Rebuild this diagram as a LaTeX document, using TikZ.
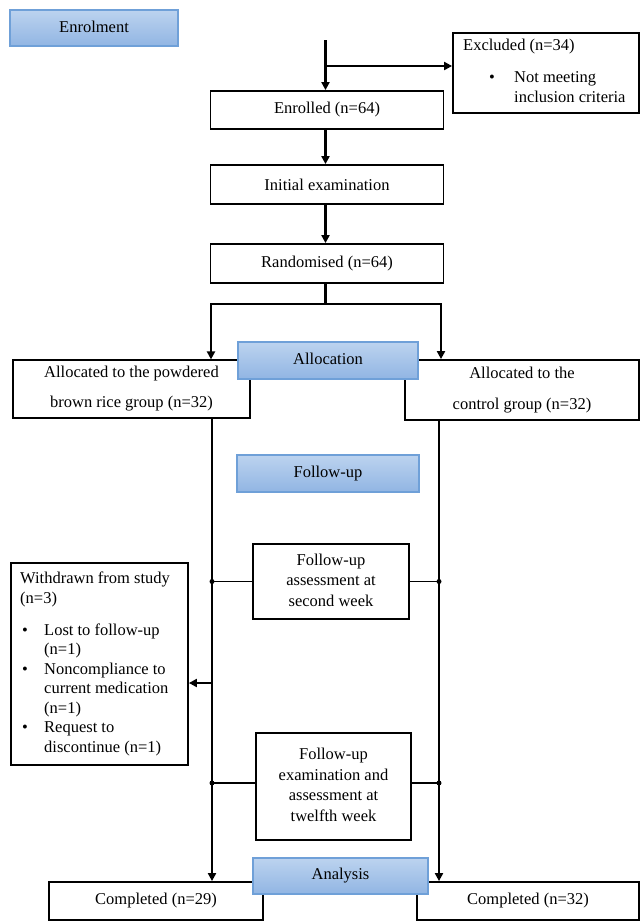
\documentclass[tikz,border=0pt]{standalone}
\usepackage{fontspec}
\setmainfont{Liberation Serif}
\usetikzlibrary{arrows.meta}
\definecolor{hdrtop}{HTML}{BCD3EF}
\definecolor{hdrbot}{HTML}{91B5E3}
\definecolor{hdrline}{HTML}{6FA0D8}
\begin{document}
\begin{tikzpicture}[x=1pt,y=-1pt,
  every node/.style={font=\fontsize{16.5}{20.5}\selectfont, inner sep=0pt},
  box/.style={draw=black, line width=1.8pt, rectangle, align=center},
  hdr/.style={draw=hdrline, line width=1.5pt, top color=hdrtop, bottom color=hdrbot, align=center},
  conn/.style={line width=2.6pt},
  thinconn/.style={line width=1.3pt},
  arr/.style={line width=2.6pt, -{Triangle[length=8pt,width=8pt]}},
  dot/.style={circle, fill=black, minimum size=5pt, inner sep=0pt}]
\useasboundingbox (0,0) rectangle (640,922);
\fill[white] (0,0) rectangle (640,922);

% boxes
\node[box, minimum width=186pt, minimum height=80pt] (excluded) at (546,73) {};
\node[anchor=north west, align=left] (exctext) at (463,36) {%
\begin{tabular}{@{}p{51pt}@{}l@{}}
\multicolumn{2}{@{}l@{}}{Excluded (n=34)}\\[11pt]
\hspace*{26pt}\textbullet & Not meeting\\
 & inclusion criteria
\end{tabular}};
\node[box, minimum width=233pt, minimum height=38pt] (enrolled) at (327,110) {Enrolled (n=64)};
\node[box, minimum width=233pt, minimum height=39pt] (initial) at (327,184.5) {Initial examination};
\node[box, minimum width=233pt, minimum height=39pt] (random) at (327,263.5) {Randomised (n=64)};
\node[box, line width=1.2pt, minimum width=237pt, minimum height=58pt] (allocL) at (131.5,389) {Allocated to the powdered\\[9.5pt]brown rice group (n=32)};
\node[box, minimum width=234pt, minimum height=60pt] (allocR) at (522,390) {Allocated to the\\[10.5pt]control group (n=32)};
\node[box, minimum width=156pt, minimum height=75pt] (fu1) at (331,581.5) {\raisebox{2pt}{\begin{tabular}{@{}c@{}}Follow-up\\assessment at\\second week\end{tabular}}};
\node[box, minimum width=155pt, minimum height=107pt] (fu2) at (333.5,786.5) {\raisebox{7pt}{\begin{tabular}{@{}c@{}}Follow-up\\examination and\\assessment at\\twelfth week\end{tabular}}};
\node[box, minimum width=177pt, minimum height=202pt] (withdrawn) at (99.5,664) {};
\node[anchor=north west, align=left, font=\fontsize{16.5}{19.5}\selectfont] (wdtext) at (20,570) {%
\begin{tabular}{@{}p{24pt}@{}l@{}}
\multicolumn{2}{@{}l@{}}{Withdrawn from study}\\
\multicolumn{2}{@{}l@{}}{(n=3)}\\[12.5pt]
\hspace*{2pt}\textbullet & Lost to follow-up\\
 & (n=1)\\
\hspace*{2pt}\textbullet & Noncompliance to\\
 & current medication\\
 & (n=1)\\
\hspace*{2pt}\textbullet & Request to\\
 & discontinue (n=1)
\end{tabular}};
\node[box, minimum width=214pt, minimum height=38pt] (compL) at (156,901) {\raisebox{4pt}{Completed (n=29)}};
\node[box, minimum width=222pt, minimum height=38pt] (compR) at (528,901) {\raisebox{4pt}{Completed (n=32)}};

% connectors
\coordinate (top) at (325.5,40);
\coordinate (exb) at (325.5,66);
\draw[arr] (top) -- (top |- enrolled.north);
\draw[arr] (exb) -- (exb -| excluded.west);
\draw[arr] (top |- enrolled.south) -- (top |- initial.north);
\draw[arr] (top |- initial.south) -- (top |- random.north);
\coordinate (split) at (325.5,304);
\coordinate (sl) at (211,304);
\coordinate (sr) at (441,304);
\draw[conn] (top |- random.south) -- (split);
\draw[conn, line cap=rect] (sl) -- (sr);
\draw[arr] (sl) -- (sl |- allocL.north);
\draw[arr] (sr) -- (sr |- allocR.north);
\coordinate (lvx) at (212,0);
\coordinate (rvx) at (439,0);
\draw[arr] (allocL.south -| lvx) -- (compL.north -| lvx);
\draw[arr] (allocR.south -| rvx) -- (compR.north -| rvx);
\draw[thinconn] (fu1.west) -- (fu1.west -| lvx) node[dot] (d1) {};
\draw[thinconn] (fu1.east) -- (fu1.east -| rvx) node[dot] (d2) {};
\draw[thinconn] (fu2.west |- 0,783) -- (lvx |- 0,783) node[dot] (d3) {};
\draw[conn] (fu2.east |- 0,783) -- (rvx |- 0,783) node[dot] (d4) {};
\coordinate (wd) at (212,683);
\draw[arr] (wd) -- (wd -| withdrawn.east);

% header boxes
\node[hdr, minimum width=168pt, minimum height=36pt] (enrolment) at (94,28) {\raisebox{3pt}{Enrolment}};
\node[hdr, minimum width=180pt, minimum height=37pt] (allocation) at (328,360.5) {\raisebox{3pt}{Allocation}};
\node[hdr, minimum width=182pt, minimum height=37pt] (followup) at (328,473.5) {\raisebox{1pt}{Follow-up}};
\node[hdr, minimum width=175pt, minimum height=36pt] (analysis) at (340.5,876) {\raisebox{4pt}{Analysis}};
\end{tikzpicture}
\end{document}
